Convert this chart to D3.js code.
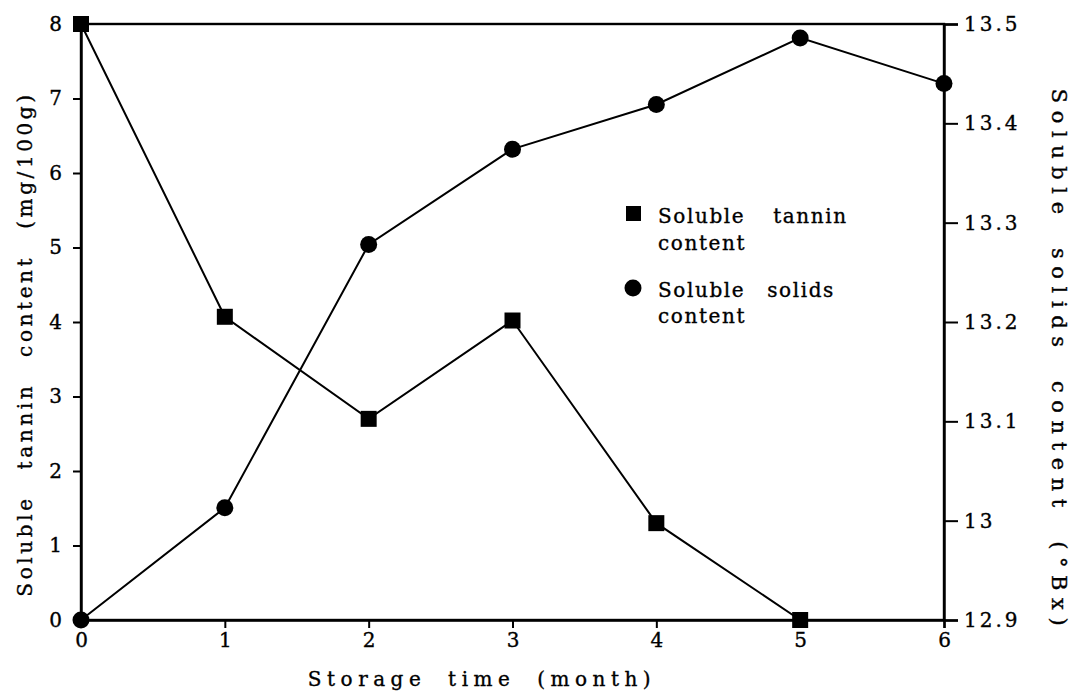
<!DOCTYPE html>
<html>
<head>
<meta charset="utf-8">
<script src="https://cdn.jsdelivr.net/npm/d3@7"></script>
<style>
  html, body { margin: 0; padding: 0; background: #fff; }
  svg text { font-family: "DejaVu Serif", "Liberation Serif", serif; fill: #000; stroke: #000; stroke-width: 0.35px; }
</style>
</head>
<body>
<svg id="chart" width="1076" height="695"></svg>
<script>
// Storage months
const months = [0, 1, 2, 3, 4, 5, 6];
// Soluble tannin content, mg/100g (months 0–5)
const tannin = [8.0, 4.07, 2.7, 4.02, 1.3, 0.0];
// Soluble solids content, °Bx (months 0–6)
const solids = [12.9, 13.013, 13.278, 13.374, 13.419, 13.486, 13.44];
// Tick labels
const leftTicks = [0, 1, 2, 3, 4, 5, 6, 7, 8];
const rightTicks = [12.9, 13.0, 13.1, 13.2, 13.3, 13.4, 13.5];
const rightTickLabels = ["12.9", "13", "13.1", "13.2", "13.3", "13.4", "13.5"];

const svg = d3.select("#chart");
const L = 81, R = 944, T = 24, B = 620;

const x = d3.scaleLinear().domain([0, 6]).range([L, R]);
const yL = d3.scaleLinear().domain([0, 8]).range([B, T]);
const yR = d3.scaleLinear().domain([12.9, 13.5]).range([B, T]);

const fs = 20;

// Plot frame
svg.append("rect")
  .attr("x", L).attr("y", T).attr("width", R - L).attr("height", B - T)
  .attr("fill", "none").attr("stroke", "#000").attr("stroke-width", 2.4);

// Left axis
const gL = svg.append("g").attr("transform", `translate(${L},0)`)
  .call(d3.axisLeft(yL).tickValues(leftTicks).tickSize(8).tickPadding(11).tickFormat(d3.format("d")));
// Bottom axis
const gB = svg.append("g").attr("transform", `translate(0,${B})`)
  .call(d3.axisBottom(x).tickValues(months).tickSize(8).tickPadding(5).tickFormat(d3.format("d")));
// Right axis
const gR = svg.append("g").attr("transform", `translate(${R},0)`)
  .call(d3.axisRight(yR).tickValues(rightTicks).tickSize(14).tickPadding(6)
    .tickFormat((d, i) => rightTickLabels[i]));

[gL, gB, gR].forEach(g => {
  g.select(".domain").attr("stroke", "#000").attr("stroke-width", 2.4);
  g.selectAll(".tick line").attr("stroke", "#000").attr("stroke-width", 2);
  g.selectAll(".tick text").attr("font-size", fs).attr("fill", "#000")
    .style("font-family", '"DejaVu Serif", "Liberation Serif", serif');
});
gR.selectAll(".tick text").attr("letter-spacing", 3);

// Lines
const lineT = d3.line().x((d, i) => x(months[i])).y(d => yL(d));
const lineS = d3.line().x((d, i) => x(months[i])).y(d => yR(d));

svg.append("path").datum(tannin).attr("d", lineT)
  .attr("fill", "none").attr("stroke", "#000").attr("stroke-width", 2);
svg.append("path").datum(solids).attr("d", lineS)
  .attr("fill", "none").attr("stroke", "#000").attr("stroke-width", 2);

// Markers
svg.selectAll("rect.sq").data(tannin).enter().append("rect").attr("class", "sq")
  .attr("x", (d, i) => x(months[i]) - 8).attr("y", d => yL(d) - 8)
  .attr("width", 16).attr("height", 16).attr("fill", "#000");
svg.selectAll("circle.pt").data(solids).enter().append("circle").attr("class", "pt")
  .attr("cx", (d, i) => x(months[i])).attr("cy", d => yR(d)).attr("r", 8.5).attr("fill", "#000");

// Legend
const lg = svg.append("g");
lg.append("rect").attr("x", 626).attr("y", 206).attr("width", 15).attr("height", 15).attr("fill", "#000");
lg.append("text").attr("x", 658).attr("y", 223).attr("font-size", fs).attr("word-spacing", 20)
  .attr("letter-spacing", 1.6).text("Soluble tannin");
lg.append("text").attr("x", 658).attr("y", 250).attr("font-size", fs).attr("letter-spacing", 1.6).text("content");
lg.append("circle").attr("cx", 633).attr("cy", 288).attr("r", 8.5).attr("fill", "#000");
lg.append("text").attr("x", 658).attr("y", 297).attr("font-size", fs).attr("word-spacing", 14)
  .attr("letter-spacing", 1.6).text("Soluble solids");
lg.append("text").attr("x", 658).attr("y", 323).attr("font-size", fs).attr("letter-spacing", 1.6).text("content");

// Axis titles
svg.append("text").attr("x", 482).attr("y", 686).attr("text-anchor", "middle")
  .attr("font-size", fs).attr("letter-spacing", 5.5).attr("word-spacing", 10).text("Storage time (month)");

svg.append("text").attr("transform", `translate(32,344) rotate(-90)`)
  .attr("text-anchor", "middle").attr("font-size", fs).attr("letter-spacing", 3.6).attr("word-spacing", 16)
  .text("Soluble tannin content (mg/100g)");

svg.append("text").attr("transform", `translate(1052,361) rotate(90)`)
  .attr("text-anchor", "middle").attr("font-size", 21).attr("letter-spacing", 7.6).attr("word-spacing", 12)
  .text("Soluble solids content (°Bx)");
</script>
</body>
</html>
